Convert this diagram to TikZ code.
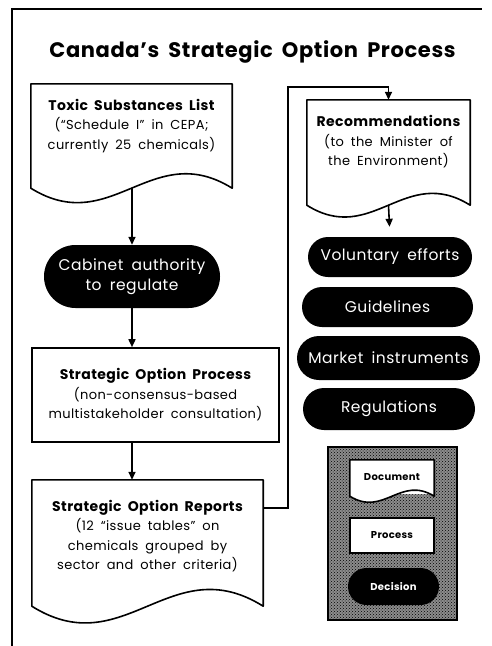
\documentclass[tikz,border=0pt]{standalone}
\usepackage{fontspec}
\setmainfont{Poppins}[LetterSpace=3, WordSpace=1.8]
\usetikzlibrary{arrows.meta,calc,shapes.misc,patterns}

% outline of a document shape round a node: #1 node, #2 wave depth, #3 wave amplitude
\newcommand{\docoutline}[3]{%
  \draw[docline] ($(#1.south west)+(0,#2)$) -- (#1.north west) -- (#1.north east)
    -- ($(#1.south east)+(0,#2)$)
    .. controls ($(#1.south east)!0.4!(#1.south west)+(0,#2-#3)$)
       and ($(#1.south west)!0.4!(#1.south east)+(0,#2+#3)$) .. cycle;
  \coordinate (#1-b) at ($(#1.south)+(0,#2)$);
}
\newcommand{\bodyfont}{\fontsize{13}{19.5}\selectfont}
\newcommand{\head}[1]{{\fontsize{14}{19.5}\selectfont\bfseries #1}}

\begin{document}
\begin{tikzpicture}[x=1pt, y=-1pt,
    docline/.style={line width=1.6pt, line join=round},
    doc/.style={draw=none, inner sep=0pt, align=center, font=\bodyfont},
    procbox/.style={draw=black, line width=1.6pt, rectangle, inner sep=0pt,
                align=center, font=\bodyfont},
    pill/.style={rounded rectangle, fill=black, text=white, inner sep=0pt,
                align=center, font=\fontsize{15.5}{20}\selectfont},
    arrow/.style={-{Triangle[length=8pt,width=7pt]}, line width=1.6pt},
    small/.style={font=\fontsize{10}{12}\selectfont\bfseries}
]
  \useasboundingbox (0,0) rectangle (492,646);

  % --- Frame and title ---
  \draw[line width=1.8pt] (12,646) -- (12,9) -- (482,9);
  \node[font=\fontsize{21}{25}\selectfont\bfseries, anchor=base] (title) at (252.5,57)
    {Canada's Strategic Option Process};

  % --- Left column ---
  \node[doc, minimum width=201pt, minimum height=84pt] (toxic) at (131.5,126)
    {\head{Toxic Substances List}\\(“Schedule I” in CEPA;\\currently 25 chemicals)};
  \docoutline{toxic}{20}{50}

  \node[pill, minimum width=176pt, minimum height=63pt] (cabinet) at (132,276.5)
    {Cabinet authority\\to regulate};

  \node[procbox, minimum width=247pt, minimum height=94pt] (process) at (155.5,395)
    {\head{Strategic Option Process}\\(non-consensus-based\\multistakeholder consultation)};

  \node[doc, minimum width=231pt, minimum height=112pt] (reports) at (147.5,536)
    {\head{Strategic Option Reports}\\(12 “issue tables” on\\chemicals grouped by\\sector and other criteria)};
  \docoutline{reports}{14}{58}

  % --- Right column ---
  \node[doc, minimum width=163pt, minimum height=84pt] (recomm) at (388.5,142)
    {\head{Recommendations}\\(to the Minister of\\the Environment)};
  \docoutline{recomm}{21}{41}

  \node[pill, minimum width=164pt, minimum height=40pt] (voluntary) at (390,257) {Voluntary efforts};
  \node[pill, minimum width=171pt, minimum height=40pt] (guide) at (387.5,307) {Guidelines};
  \node[pill, minimum width=183pt, minimum height=44pt] (market) at (388.5,358) {Market instruments};
  \node[pill, minimum width=172pt, minimum height=42pt] (regul) at (389,409) {Regulations};

  % --- Legend ---
  \node[draw=black, line width=1.6pt, minimum width=129pt, minimum height=173pt,
        inner sep=0pt, preaction={fill=black!45}, pattern=crosshatch dots,
        pattern color=black] (legend) at (392.5,533.5) {};
  \node[doc, fill=white, minimum width=84pt, minimum height=34pt, small] (legdoc) at (392,477) {Document};
  \fill[white] ($(legdoc.south west)+(0,2)$) -- (legdoc.south west) -- (legdoc.south east) -- ($(legdoc.south east)+(0,2)$)
    .. controls ($(legdoc.south east)!0.4!(legdoc.south west)+(0,2-21)$)
       and ($(legdoc.south west)!0.4!(legdoc.south east)+(0,2+21)$) .. cycle;
  \docoutline{legdoc}{2}{21}
  \node[procbox, fill=white, minimum width=84pt, minimum height=35pt, small] (legproc) at (392,535.5) {Process};
  \node[pill, minimum width=91pt, minimum height=37pt, small] (legdec) at (393.5,586.5) {Decision};

  % --- Connectors ---
  \draw[arrow] (toxic-b -| cabinet) -- (cabinet.north);
  \draw[arrow] (cabinet.south) -- (cabinet.south |- process.north);
  \draw[arrow] (cabinet.south |- process.south) -- (cabinet.south |- reports.north);
  \coordinate (loop) at (288,87);
  \draw[arrow] ($(reports.north east)+(0,28)$) -| (loop) -| (recomm.north);
  \draw[arrow, shorten >=10pt] (recomm-b) -- (voluntary.north);
\end{tikzpicture}
\end{document}
